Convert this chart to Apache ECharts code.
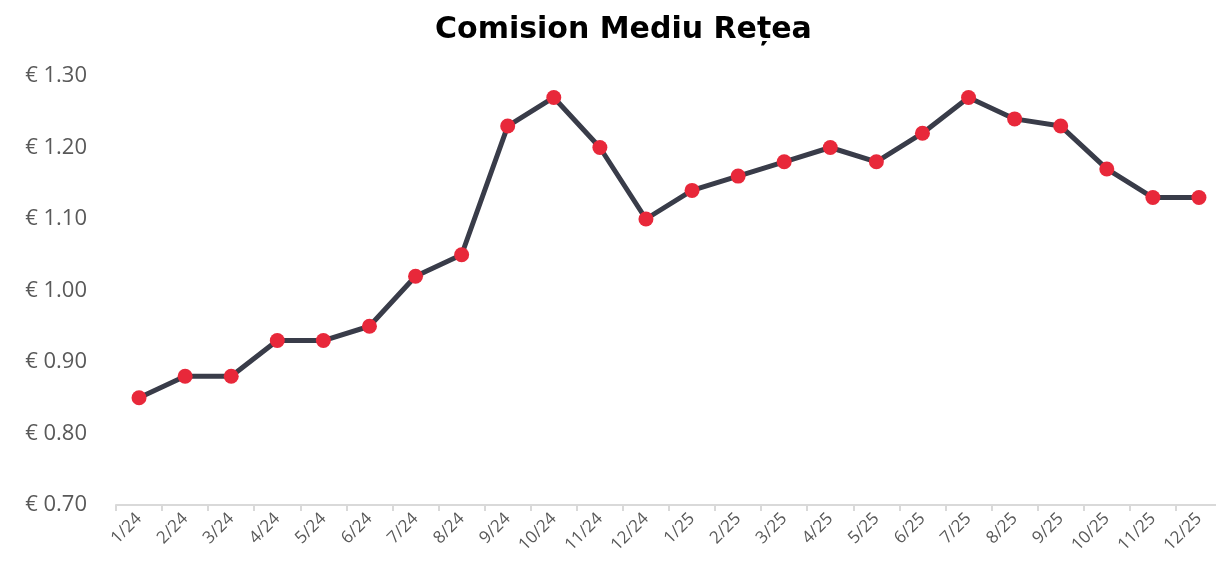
<!DOCTYPE html>
<html><head><meta charset="utf-8">
<script src="https://cdn.jsdelivr.net/npm/echarts@6/dist/echarts.min.js"></script>
<style>html,body{margin:0;padding:0;background:#fff}#c{width:1216px;height:566px}</style>
</head><body><div id="c"></div>
<script>
const categories = ['1/24','2/24','3/24','4/24','5/24','6/24','7/24','8/24','9/24','10/24','11/24','12/24','1/25','2/25','3/25','4/25','5/25','6/25','7/25','8/25','9/25','10/25','11/25','12/25'];
const values = [0.85,0.88,0.88,0.93,0.93,0.95,1.02,1.05,1.23,1.27,1.20,1.10,1.14,1.16,1.18,1.20,1.18,1.22,1.27,1.24,1.23,1.17,1.13,1.13];
const title = 'Comision Mediu Rețea';
const yMin = 0.7, yMax = 1.3, yStep = 0.1;

const chart = echarts.init(document.getElementById('c'), null, {renderer:'canvas'});
chart.setOption({
  animation:false,
  title:{text:title,left:430,top:10,textStyle:{fontFamily:'DejaVu Sans',fontWeight:'bold',fontSize:30,color:'#000'}},
  grid:{left:116,width:1106,top:76,bottom:61,containLabel:false,outerBoundsMode:'none'},
  xAxis:{type:'category',data:categories,boundaryGap:true,
    axisLine:{lineStyle:{color:'#d9d9d9',width:2}},
    axisTick:{show:true,length:6,lineStyle:{color:'#d9d9d9',width:2}},
    axisLabel:{rotate:45,fontFamily:'Open Sans',fontSize:17,color:'#595959',margin:11,interval:0}},
  yAxis:{type:'value',min:yMin,max:yMax,interval:yStep,
    axisLine:{show:false},axisTick:{show:false},splitLine:{show:false},
    axisLabel:{fontFamily:'Open Sans',fontSize:22,color:'#595959',margin:29,formatter:v=>'€ '+v.toFixed(2)}},
  series:[{type:'line',data:values,symbol:'circle',symbolSize:15,
    lineStyle:{color:'#393c49',width:5},itemStyle:{color:'#e8283a',borderWidth:0}}]
});
</script></body></html>
